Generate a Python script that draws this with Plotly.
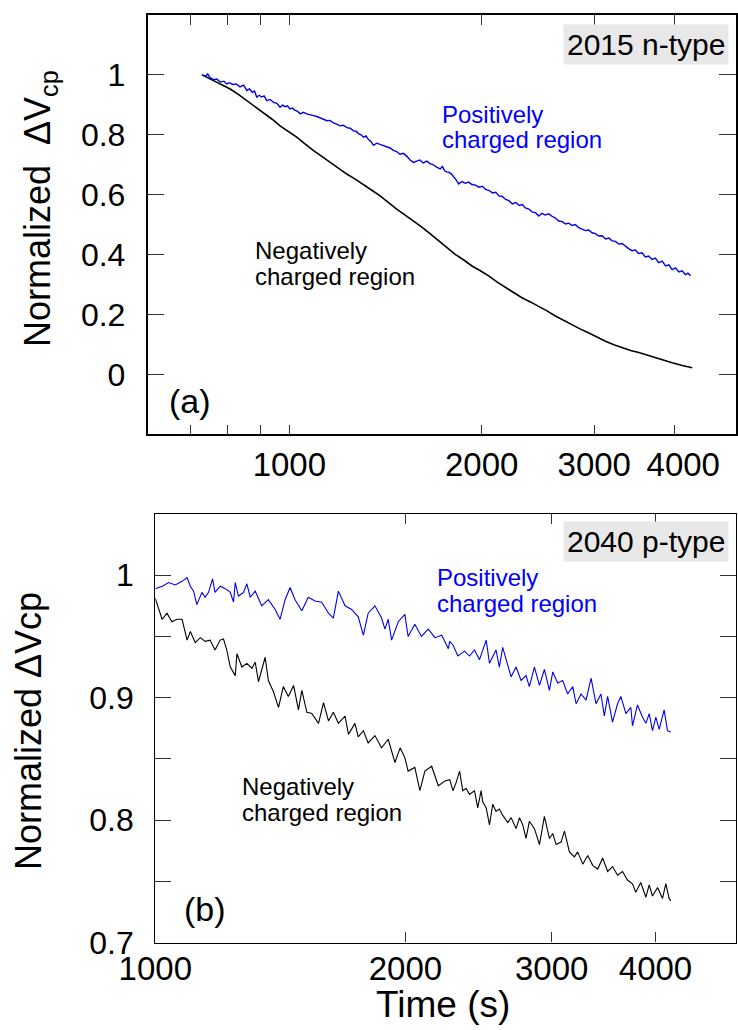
import math
import plotly.graph_objects as go

# ---------------- data: panel (a) 2015 n-type ----------------
a_pos_t = [730, 740, 745, 752, 761, 770, 780, 790, 798, 806,
           815, 826, 837, 848, 858, 866, 875, 882, 889, 897,
           905, 913, 922, 933, 945, 956, 967, 976, 985, 993,
           1002, 1011, 1020, 1030, 1040, 1052, 1065, 1078, 1091, 1104,
           1118, 1131, 1145, 1158, 1172, 1186, 1200, 1215, 1230, 1245,
           1260, 1272, 1283, 1295, 1306, 1318, 1330, 1342, 1354, 1370,
           1387, 1403, 1420, 1437, 1455, 1472, 1490, 1508, 1527, 1545,
           1564, 1582, 1600, 1620, 1641, 1660, 1680, 1700, 1722, 1736,
           1750, 1763, 1776, 1795, 1810, 1826, 1841, 1863, 1885, 1908,
           1931, 1955, 1980, 2004, 2028, 2054, 2080, 2104, 2128, 2154,
           2180, 2206, 2233, 2261, 2290, 2315, 2341, 2370, 2400, 2428,
           2456, 2485, 2515, 2545, 2577, 2608, 2640, 2672, 2704, 2737,
           2770, 2803, 2837, 2870, 2905, 2940, 2977, 3013, 3050, 3087,
           3124, 3162, 3200, 3238, 3277, 3316, 3355, 3396, 3438, 3479,
           3520, 3563, 3607, 3650, 3695, 3740, 3785, 3832, 3880, 3926,
           3972, 4020, 4070, 4118, 4167, 4205, 4245]
a_pos_v = [1.000, 0.996, 1.003, 0.990, 0.984, 0.986, 0.976, 0.979, 0.970, 0.974,
           0.968, 0.970, 0.960, 0.966, 0.948, 0.953, 0.942, 0.946, 0.926, 0.932,
           0.926, 0.930, 0.914, 0.918, 0.908, 0.905, 0.892, 0.899, 0.894, 0.897,
           0.886, 0.889, 0.882, 0.878, 0.870, 0.875, 0.870, 0.866, 0.864, 0.861,
           0.856, 0.852, 0.847, 0.848, 0.840, 0.836, 0.830, 0.832, 0.824, 0.822,
           0.813, 0.812, 0.804, 0.800, 0.792, 0.796, 0.784, 0.778, 0.765, 0.772,
           0.768, 0.766, 0.760, 0.756, 0.748, 0.744, 0.735, 0.738, 0.728, 0.716,
           0.708, 0.712, 0.716, 0.706, 0.712, 0.704, 0.700, 0.692, 0.686, 0.694,
           0.680, 0.676, 0.675, 0.668, 0.660, 0.648, 0.636, 0.644, 0.638, 0.642,
           0.634, 0.632, 0.625, 0.628, 0.618, 0.614, 0.606, 0.608, 0.596, 0.594,
           0.584, 0.580, 0.569, 0.574, 0.564, 0.567, 0.556, 0.552, 0.542, 0.540,
           0.529, 0.538, 0.532, 0.536, 0.528, 0.522, 0.512, 0.510, 0.502, 0.505,
           0.497, 0.500, 0.490, 0.486, 0.480, 0.482, 0.473, 0.470, 0.462, 0.463,
           0.452, 0.455, 0.446, 0.444, 0.435, 0.437, 0.428, 0.420, 0.413, 0.415,
           0.404, 0.406, 0.392, 0.395, 0.384, 0.388, 0.373, 0.378, 0.362, 0.366,
           0.350, 0.356, 0.342, 0.346, 0.333, 0.338, 0.329]

a_neg_t = [730, 761, 785, 808, 833, 858, 885, 911, 940, 967,
           997, 1027, 1058, 1091, 1124, 1158, 1194, 1230, 1268, 1306,
           1346, 1387, 1430, 1472, 1518, 1564, 1612, 1660, 1713, 1763,
           1818, 1875, 1931, 1990, 2051, 2115, 2179, 2245, 2312, 2383,
           2456, 2530, 2608, 2688, 2768, 2850, 2937, 3030, 3124, 3220,
           3317, 3420, 3522, 3630, 3740, 3855, 3972, 4120, 4270]
a_neg_v = [1.000, 0.981, 0.966, 0.953, 0.934, 0.914, 0.895, 0.875, 0.852, 0.830,
           0.812, 0.792, 0.770, 0.747, 0.728, 0.708, 0.688, 0.669, 0.652, 0.635,
           0.615, 0.596, 0.573, 0.552, 0.532, 0.513, 0.492, 0.470, 0.447, 0.425,
           0.401, 0.382, 0.362, 0.346, 0.329, 0.308, 0.290, 0.272, 0.256, 0.242,
           0.228, 0.212, 0.195, 0.180, 0.167, 0.152, 0.139, 0.124, 0.111, 0.099,
           0.089, 0.080, 0.073, 0.064, 0.056, 0.047, 0.039, 0.030, 0.022]

# ---------------- data: panel (b) 2040 p-type ----------------
b_pos_t = [1000, 1019, 1038, 1057, 1077, 1092, 1102, 1112, 1122, 1138,
           1148, 1159, 1172, 1180, 1197, 1214, 1231, 1242, 1248, 1259,
           1277, 1289, 1301, 1319, 1343, 1368, 1394, 1413, 1433, 1453,
           1473, 1501, 1528, 1557, 1586, 1616, 1638, 1661, 1692, 1723,
           1755, 1780, 1804, 1838, 1872, 1890, 1907, 1925, 1961, 1997,
           2015, 2053, 2091, 2131, 2171, 2212, 2253,
           2261, 2282, 2313, 2356, 2389, 2422, 2456, 2502, 2525, 2571,
           2595, 2619, 2643, 2681, 2718, 2756, 2794, 2820, 2860, 2900,
           2940, 2981, 3009, 3050, 3093, 3136, 3180, 3210, 3254, 3300,
           3346, 3392, 3439, 3471, 3503, 3551, 3601, 3634, 3685, 3736,
           3753, 3805, 3859, 3895, 3931, 3967, 4004, 4041, 4097, 4135,
           4173]
b_pos_v = [0.989, 0.991, 0.994, 0.992, 0.995, 0.998, 0.991, 0.987, 0.976, 0.986,
           0.982, 0.986, 0.997, 0.986, 0.991, 0.989, 0.986, 0.978, 0.994, 0.983,
           0.986, 0.993, 0.982, 0.987, 0.975, 0.980, 0.972, 0.964, 0.980, 0.990,
           0.980, 0.971, 0.982, 0.979, 0.978, 0.969, 0.965, 0.987, 0.975, 0.972,
           0.966, 0.951, 0.969, 0.975, 0.965, 0.956, 0.964, 0.947, 0.962, 0.968,
           0.950, 0.960, 0.950, 0.956, 0.949, 0.951, 0.940,
           0.946, 0.943, 0.934, 0.938, 0.934, 0.939, 0.931, 0.947, 0.928, 0.939,
           0.925, 0.941, 0.931, 0.917, 0.925, 0.914, 0.918, 0.909, 0.925, 0.910,
           0.923, 0.906, 0.921, 0.912, 0.914, 0.903, 0.909, 0.895, 0.903, 0.898,
           0.916, 0.895, 0.903, 0.885, 0.901, 0.880, 0.895, 0.901, 0.887, 0.892,
           0.877, 0.894, 0.884, 0.879, 0.887, 0.873, 0.884, 0.874, 0.890, 0.873,
           0.872]

b_neg_t = [1000, 1009, 1019, 1033, 1047, 1062, 1077, 1092, 1102, 1117,
           1133, 1148, 1164, 1180, 1197, 1208, 1219, 1231, 1248, 1254,
           1271, 1289, 1307, 1319, 1331, 1356, 1368, 1387, 1407, 1426,
           1446, 1467, 1487, 1501, 1522, 1543, 1572, 1594, 1616, 1638,
           1661, 1692, 1708, 1739, 1755, 1780, 1804, 1838, 1872, 1907,
           1943, 1971, 1997, 2015, 2053, 2082, 2111, 2151, 2191, 2232,
           2261, 2282, 2303, 2324, 2345, 2366, 2389, 2422, 2444, 2467,
           2478, 2502, 2525, 2548, 2571, 2595, 2619, 2656, 2681, 2718,
           2744, 2769, 2794, 2820, 2860, 2900, 2940, 2981, 3009, 3037,
           3079, 3108, 3151, 3195, 3224, 3270, 3315, 3361, 3408, 3455,
           3503, 3551, 3601, 3651, 3701, 3753, 3787, 3840, 3895, 3931,
           3967, 4023, 4079, 4116, 4154, 4173]
b_neg_v = [0.981, 0.972, 0.964, 0.969, 0.962, 0.964, 0.964, 0.947, 0.954, 0.945,
           0.949, 0.946, 0.947, 0.939, 0.947, 0.948, 0.939, 0.925, 0.918, 0.936,
           0.925, 0.928, 0.924, 0.929, 0.913, 0.933, 0.914, 0.905, 0.892, 0.909,
           0.901, 0.910, 0.890, 0.906, 0.888, 0.887, 0.879, 0.896, 0.881, 0.888,
           0.879, 0.885, 0.870, 0.879, 0.868, 0.873, 0.863, 0.869, 0.859, 0.866,
           0.847, 0.859, 0.851, 0.840, 0.843, 0.824, 0.840, 0.844, 0.828, 0.832,
           0.833, 0.824, 0.831, 0.840, 0.824, 0.826, 0.821, 0.824, 0.810, 0.824,
           0.815, 0.810, 0.796, 0.813, 0.807, 0.809, 0.804, 0.798, 0.802, 0.793,
           0.802, 0.796, 0.785, 0.799, 0.793, 0.780, 0.803, 0.785, 0.789, 0.780,
           0.782, 0.791, 0.774, 0.770, 0.774, 0.764, 0.771, 0.763, 0.760, 0.769,
           0.758, 0.762, 0.755, 0.758, 0.751, 0.748, 0.741, 0.749, 0.737, 0.747,
           0.738, 0.745, 0.736, 0.748, 0.736, 0.734]

# ---------------- ticks / ranges ----------------
x_tick_vals = [1000, 2000, 3000, 4000]
a_x_tick_text = ["1000", "2000", "3000", "\u00a0\u00a04000"]
b_x_tick_text = ["1000", "2000", "3000", "4000"]
a_minor_ticks = [700, 800, 900]
a_long_tick = [1000]
a_x_range = [600, 5000]
b_x_range = [1000, 5000]
a_y_range = [-0.2, 1.2]
b_y_range = [0.7, 1.05]
a_y_ticks = [0, 0.2, 0.4, 0.6, 0.8, 1.0]
a_y_text = ["0", "0.2", "0.4", "0.6", "0.8", "1"]
b_y_ticks = [0.7, 0.8, 0.9, 1.0]
b_y_text = ["0.7", "0.8", "0.9", "1"]
b_y_minor = [0.75, 0.85, 0.95]

W, H = 738, 1030
FONT = "Liberation Sans, Arial, Helvetica, sans-serif"
BLUE = "#0000ee"
TXT_BLUE = "#0000ff"
TICK = "#333333"


def fx(p):
    return p / W


def fy(p):
    return 1 - p / H


fig = go.Figure()
fig.add_trace(go.Scatter(x=a_neg_t, y=a_neg_v, mode="lines", xaxis="x", yaxis="y",
                         line=dict(color="black", width=1.6), showlegend=False, hoverinfo="skip"))
fig.add_trace(go.Scatter(x=a_pos_t, y=a_pos_v, mode="lines", xaxis="x", yaxis="y",
                         line=dict(color=BLUE, width=1.4), showlegend=False, hoverinfo="skip"))
fig.add_trace(go.Scatter(x=b_neg_t, y=b_neg_v, mode="lines", xaxis="x2", yaxis="y2",
                         line=dict(color="black", width=1.1), showlegend=False, hoverinfo="skip"))
fig.add_trace(go.Scatter(x=b_pos_t, y=b_pos_v, mode="lines", xaxis="x2", yaxis="y2",
                         line=dict(color=BLUE, width=1.1), showlegend=False, hoverinfo="skip"))

xtickfont = dict(family=FONT, size=33, color="black")
ytickfont = dict(family=FONT, size=32, color="black")
common = dict(showgrid=False, zeroline=False, showline=True, linecolor="black",
              mirror="ticks", ticks="inside", tickcolor=TICK, tickwidth=1.2,
              automargin=False)

fig.update_layout(
    width=W, height=H,
    margin=dict(l=0, r=0, t=0, b=0, autoexpand=False),
    paper_bgcolor="white", plot_bgcolor="white",
    showlegend=False,
    xaxis=dict(common, type="log", domain=[fx(147.6), fx(736)], anchor="y",
               range=[math.log10(a_x_range[0]), math.log10(a_x_range[1])],
               tickmode="array", tickvals=x_tick_vals, ticktext=a_x_tick_text,
               tickangle=0, tickfont=xtickfont, ticklen=10, linewidth=1.6,
               ticklabelstandoff=0,
               minor=dict(tickmode="array", tickvals=a_minor_ticks, ticks="inside",
                          ticklen=10, tickcolor=TICK, tickwidth=1.2)),
    # overlay axis only carrying the longer tick at 1000
    xaxis3=dict(type="log", overlaying="x", anchor="y", automargin=False,
                range=[math.log10(a_x_range[0]), math.log10(a_x_range[1])],
                tickmode="array", tickvals=a_long_tick, ticks="inside", ticklen=18,
                tickcolor=TICK, tickwidth=1.2, showticklabels=False,
                showline=False, mirror="ticks", showgrid=False, zeroline=False),
    yaxis=dict(common, domain=[fy(434.3), fy(15)], anchor="x", range=a_y_range,
               tickmode="array", tickvals=a_y_ticks, ticktext=a_y_text,
               tickfont=ytickfont, ticklen=17, linewidth=1.6, ticklabelstandoff=14),
    xaxis2=dict(common, type="log", domain=[fx(155.3), fx(736)], anchor="y2",
                range=[math.log10(b_x_range[0]), math.log10(b_x_range[1])],
                tickmode="array", tickvals=x_tick_vals, ticktext=b_x_tick_text,
                tickangle=0, tickfont=xtickfont, ticklen=10, linewidth=1.3,
                ticklabelstandoff=-3),
    yaxis2=dict(common, domain=[fy(942.5), fy(514)], anchor="x2", range=b_y_range,
                tickmode="array", tickvals=b_y_ticks, ticktext=b_y_text,
                tickfont=ytickfont, ticklen=16, linewidth=1.3, ticklabelstandoff=14,
                minor=dict(tickmode="array", tickvals=b_y_minor, ticks="inside",
                           ticklen=16, tickcolor=TICK, tickwidth=1.2)),
)

ann = []


def text(xp, yp, s, size, color="black", xanchor="left", bg=None, angle=0):
    d = dict(xref="paper", yref="paper", x=fx(xp), y=fy(yp), text=s, showarrow=False,
             xanchor=xanchor, yanchor="middle", textangle=angle,
             font=dict(family=FONT, size=size, color=color), borderpad=0)
    if bg:
        d["bgcolor"] = bg
        d["borderpad"] = 3
    ann.append(d)


# panel (a)
text(729, 44.5, "2015 n-type", 30, xanchor="right", bg="#e8e8e8")
text(441, 114, "Positively", 24, TXT_BLUE)
text(441, 140, "charged region", 24, TXT_BLUE)
text(254, 251, "Negatively", 24)
text(254, 277, "charged region", 24)
text(168, 401, "(a)", 34)
text(40, 209, "Normalized\u00a0\u00a0\u0394V<sub>cp</sub>", 36, xanchor="center", angle=-90)
# panel (b)
text(729, 541.5, "2040 p-type", 30, xanchor="right", bg="#e8e8e8")
text(436, 577, "Positively", 24, TXT_BLUE)
text(436, 603, "charged region", 24, TXT_BLUE)
text(241, 786, "Negatively", 24)
text(241, 812, "charged region", 24)
text(183, 909, "(b)", 34)
text(28, 731, "Normalized \u0394Vcp", 36, xanchor="center", angle=-90)
text(443, 1004, "Time (s)", 37, xanchor="center")

fig.update_layout(annotations=ann)
fig.write_html("out.html")
